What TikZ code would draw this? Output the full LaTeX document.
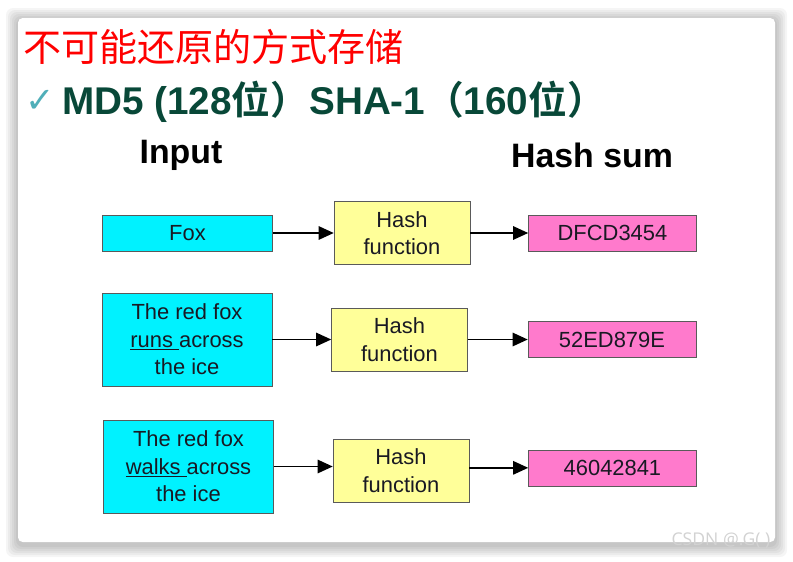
\documentclass[tikz,border=0pt]{standalone}
\usepackage{fontspec}
\setmainfont{Liberation Sans}
\newfontfamily\cjk{Noto Sans CJK SC}[BoldFont={* Bold}]
\newfontfamily\symf{DejaVu Sans}
\newfontfamily\wmk{Open Sans}
\usepackage{xcolor}
\usetikzlibrary{positioning,arrows.meta}
\definecolor{incyan}{RGB}{0,242,255}
\definecolor{hashyel}{RGB}{255,255,153}
\definecolor{outpink}{RGB}{255,122,204}
\definecolor{titlered}{RGB}{255,0,0}
\definecolor{deepgreen}{RGB}{8,72,56}
\definecolor{ticktl}{RGB}{80,175,185}
\definecolor{edge}{RGB}{90,90,90}
\definecolor{boxtext}{RGB}{25,25,35}
\tikzset{
  inbox/.style={draw=edge,fill=incyan,align=center,minimum width=5.1cm,inner sep=0pt,text=boxtext,font=\fontsize{18.7}{23.4}\selectfont},
  hashbox/.style={draw=edge,fill=hashyel,align=center,minimum width=4.08cm,minimum height=1.89cm,inner sep=0pt,text=boxtext,font=\fontsize{18.7}{23.4}\selectfont},
  outbox/.style={draw=edge,fill=outpink,align=center,minimum width=5.04cm,minimum height=1.08cm,inner sep=0pt,text=boxtext,font=\fontsize{18.7}{23.4}\selectfont},
  head/.style={inner sep=0pt,font=\bfseries\fontsize{28.9}{32}\selectfont},
  arr/.style={-{Triangle[length=0.45cm,width=0.4cm]},line width=1.4pt},
}

\begin{document}
\begin{tikzpicture}[x=0.03cm,y=-0.03cm]
  \useasboundingbox (0,0) rectangle (793,561);
  \fill[white] (0,0) rectangle (793,561);
  % soft shadow under the card
  \foreach \s in {12,10,8,6,4,2}
    \fill[black,opacity=0.04,rounded corners=6] (18-\s,20-\s) rectangle (775+\s,545+\s);
  \fill[white,rounded corners=4] (18,18) rectangle (775,542);

  % title lines
  \node[anchor=west,inner sep=0pt,text=titlered,font=\cjk\fontsize{32.5}{36}\selectfont] (title) at (23,47) {不可能还原的方式存储};
  \node[anchor=west,inner sep=0pt,text=ticktl,font=\symf\fontsize{30}{32}\selectfont] (tick) at (25,101) {✓};
  \node[anchor=west,inner sep=0pt,text=deepgreen,font=\bfseries\fontsize{33}{36}\selectfont] (algo) at (62,102)
    {MD5 (128{\cjk 位）}SHA-1{\cjk （}160{\cjk 位）}};

  \node[head] (hin) at (181,155) {Input};
  \node[head] (hout) at (592,155) {Hash sum};

  % row 1
  \node[inbox,minimum height=1.08cm] (in1) at (187.5,233) {Fox};
  \node[hashbox,right=1.83cm of in1] (hf1) {Hash\\function};
  \node[outbox,right=1.74cm of hf1] (out1) {DFCD3454};
  \draw[arr] (in1) -- (hf1);
  \draw[arr] (hf1) -- (out1);

  % row 2
  \node[inbox,minimum height=2.79cm] (in2) at (187,339.5) {The red fox\\\underline{runs\ }across\\the ice};
  \node[hashbox,right=1.77cm of in2] (hf2) {Hash\\function};
  \node[outbox,right=1.8cm of hf2] (out2) {52ED879E};
  \draw[arr] (in2) -- (hf2);
  \draw[arr] (hf2) -- (out2);

  % row 3
  \node[inbox,minimum height=2.79cm] (in3) at (188.5,466.5) {The red fox\\\underline{walks\ }across\\the ice};
  \node[hashbox,right=1.77cm of in3,yshift=-0.12cm] (hf3) {Hash\\function};
  \node[outbox,right=1.77cm of hf3,yshift=0.08cm] (out3) {46042841};
  \draw[arr] (in3) -- (in3 -| hf3.west);
  \draw[arr] (hf3.east |- out3) -- (out3);

  \node[text=gray!35,inner sep=0pt,font=\wmk\fontsize{15}{16}\selectfont] (mark) at (721,541) {CSDN @.G( )};
\end{tikzpicture}
\end{document}
